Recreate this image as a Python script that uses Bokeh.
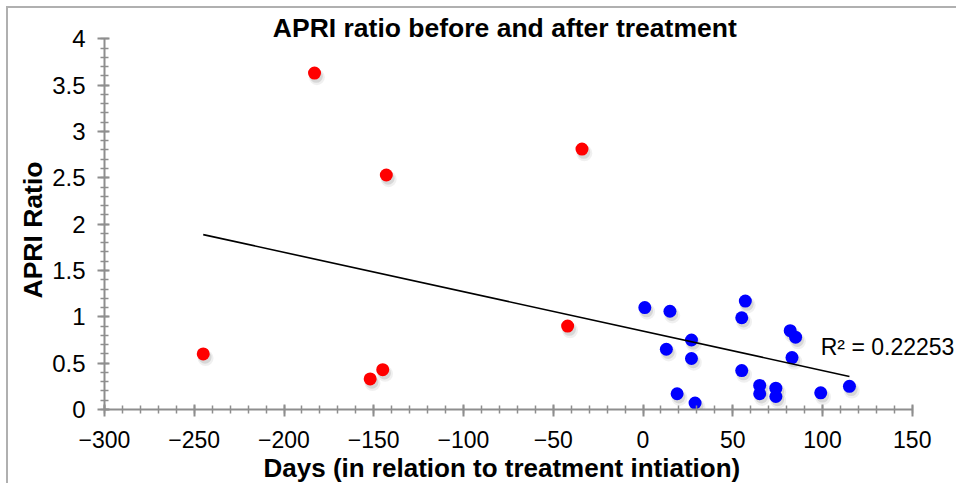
import numpy as np
from bokeh.plotting import figure
from bokeh.models import (ColumnDataSource, Range1d, SingleIntervalTicker, Label, Title)
from bokeh.transform import dodge
from bokeh.embed import file_html
from bokeh.resources import INLINE

# Data
before_days = [-245, -183, -143, -152, -145, -34, -42]
before_apri = [0.60, 3.63, 2.53, 0.33, 0.43, 2.81, 0.90]

after_days = [1, 15, 57, 55, 82, 85, 27, 13, 27, 83, 55, 65, 74, 65, 74, 99, 115, 19, 29]
after_apri = [1.10, 1.06, 1.17, 0.99, 0.85, 0.78, 0.75, 0.65, 0.55, 0.56, 0.42,
              0.26, 0.23, 0.17, 0.14, 0.18, 0.25, 0.17, 0.07]

r2_label = "R² = 0.22253"
title_text = "APRI ratio before and after treatment"
x_title = "Days (in relation to treatment intiation)"
y_title = "APRI Ratio"

FONT = "Liberation Sans"
AXIS_GRAY = "#8e8e8e"

p = figure(width=950, height=477, output_backend="svg", toolbar_location=None,
           x_range=Range1d(-300, 175.2), y_range=Range1d(0, 4.294),
           min_border_left=96, min_border_right=1, min_border_top=3, min_border_bottom=76)
p.styles = {"margin-top": "6px", "margin-left": "6px",
            "border-top": "2px solid #b0b0b0", "border-left": "2px solid #b0b0b0"}
p.outline_line_color = None
p.xgrid.grid_line_color = None
p.ygrid.grid_line_color = None
p.background_fill_color = "white"
p.border_fill_color = "white"

p.xaxis.ticker = SingleIntervalTicker(interval=50, num_minor_ticks=5)
p.yaxis.ticker = SingleIntervalTicker(interval=0.5, num_minor_ticks=5)
p.xaxis.bounds = (-300, 150)
p.yaxis.bounds = (0, 4)

for ax in (p.xaxis, p.yaxis):
    ax.axis_line_color = AXIS_GRAY
    ax.axis_line_width = 2
    ax.major_tick_line_color = AXIS_GRAY
    ax.minor_tick_line_color = AXIS_GRAY
    ax.major_tick_line_width = 2
    ax.minor_tick_line_width = 1.5
    ax.major_tick_out = 7
    ax.major_tick_in = 5
    ax.minor_tick_out = 4
    ax.minor_tick_in = 4
    ax.major_label_text_font = FONT
    ax.major_label_text_font_size = "24px"
    ax.major_label_text_color = "black"

p.xaxis.major_label_text_font_size = "23px"
p.xaxis.major_label_standoff = 14
p.yaxis.major_label_standoff = 12

# axis titles, placed along the drawn axes (not centred on the wider frame)
p.add_layout(Title(text=x_title, align="left", offset=159, standoff=0,
                   text_font=FONT, text_font_size="26px", text_font_style="bold",
                   text_color="black"), "below")
p.add_layout(Title(text=y_title, align="left", offset=111, standoff=3,
                   text_font=FONT, text_font_size="26.5px", text_font_style="bold",
                   text_color="black"), "left")

src_b = ColumnDataSource(dict(x=before_days, y=before_apri))
src_a = ColumnDataSource(dict(x=after_days, y=after_apri))

# soft drop shadows
for src in (src_b, src_a):
    p.scatter(x=dodge("x", 1.3), y=dodge("y", -0.045), source=src, size=16,
              fill_color="#000000", fill_alpha=0.06, line_color=None)
    p.scatter(x=dodge("x", 1.0), y=dodge("y", -0.035), source=src, size=13,
              fill_color="#000000", fill_alpha=0.10, line_color=None)

p.scatter("x", "y", source=src_b, size=13, fill_color="#ff0000", line_color=None)
p.scatter("x", "y", source=src_a, size=13, fill_color="#0000ff", line_color=None)

# linear trend over all points
all_x = np.array(before_days + after_days, dtype=float)
all_y = np.array(before_apri + after_apri, dtype=float)
slope, intercept = np.polyfit(all_x, all_y, 1)
tx = np.array([all_x.min(), all_x.max()])
p.line(tx, slope * tx + intercept, line_color="black", line_width=1.6)

p.add_layout(Label(x=99, y=0.67, text=r2_label, text_font=FONT, text_font_size="23px",
                   text_color="black", text_baseline="middle", text_align="left"))

p.add_layout(Label(x=-77, y=4, y_offset=11, text=title_text, text_font=FONT,
                   text_font_size="26.5px", text_font_style="bold", text_color="black",
                   text_align="center", text_baseline="middle"))

open("out.html", "w").write(file_html(p, INLINE))
